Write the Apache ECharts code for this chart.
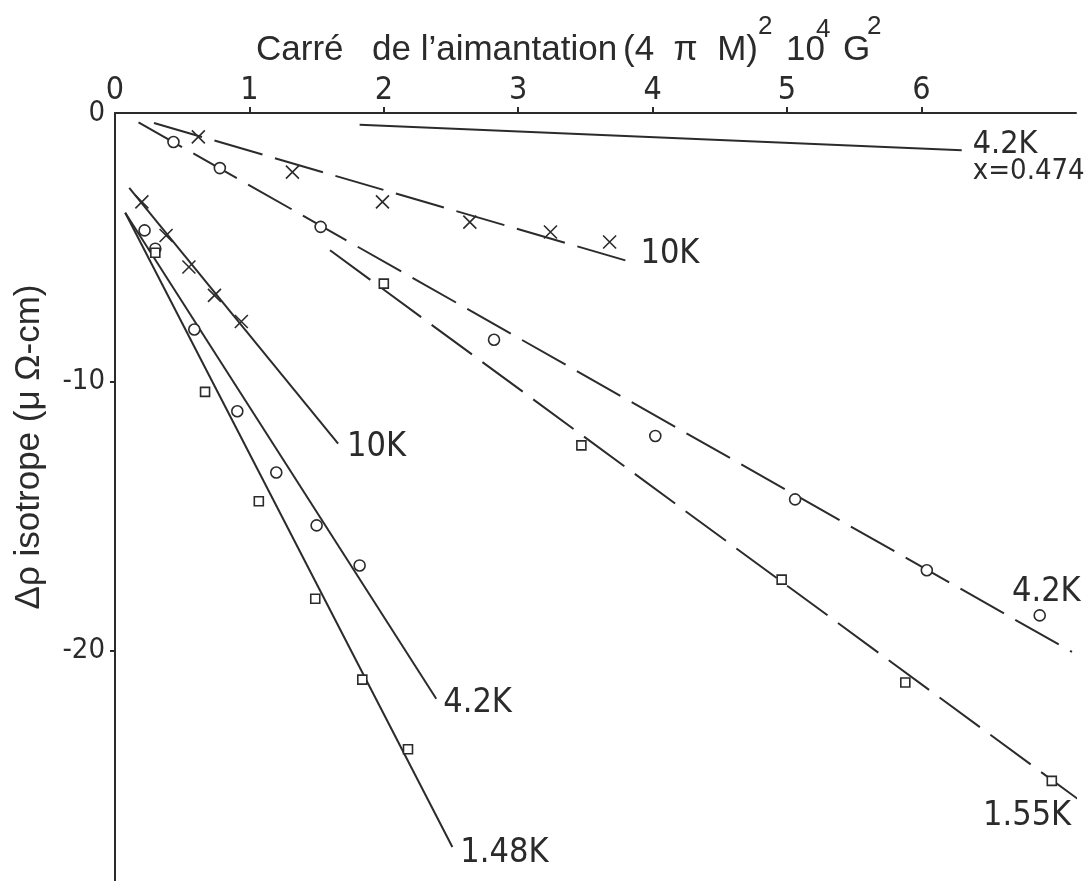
<!DOCTYPE html>
<html>
<head>
<meta charset="utf-8">
<script src="https://cdn.jsdelivr.net/npm/echarts@6/dist/echarts.min.js"></script>
<style>html,body{margin:0;padding:0;background:#fff}#c{width:1092px;height:881px}</style>
</head>
<body>
<div id="c"></div>
<script>
// ---- tick labels ----
const xTicks = [0, 1, 2, 3, 4, 5, 6];
const yTicks = [0, -10, -20];

// ---- 4.2K, x = 0.474 (solid line, no points) ----
const line42K_x0474 = [[1.82, -0.44], [6.30, -1.39]];

// ---- 10K (dashed, crosses) ----
const dash10K_x = [0.62, 1.32, 1.99, 2.64, 3.24, 3.68];
const dash10K_y = [-0.89, -2.20, -3.31, -4.06, -4.43, -4.80];
const dash10K_line = [[0.29, -0.37], [3.82, -5.52]];

// ---- 4.2K (dashed, circles) ----
const dash42K_x = [0.435, 0.78, 1.53, 2.82, 4.02, 5.06, 6.04, 6.88];
const dash42K_y = [-1.08, -2.05, -4.24, -8.44, -12.02, -14.38, -17.02, -18.70];
const dash42K_line = [[0.175, -0.35], [7.12, -20.06]];

// ---- 1.55K (dashed, squares) ----
const dash155K_x = [2.00, 3.47, 4.96, 5.88, 6.97];
const dash155K_y = [-6.35, -12.37, -17.37, -21.20, -24.86];
const dash155K_line = [[1.60, -5.11], [7.19, -25.63]];

// ---- 10K (solid, crosses) ----
const sol10K_x = [0.20, 0.38, 0.55, 0.74, 0.94];
const sol10K_y = [-3.31, -4.56, -5.73, -6.79, -7.76];
const sol10K_line = [[0.106, -2.79], [1.66, -12.31]];

// ---- 4.2K (solid, circles) ----
const sol42K_x = [0.22, 0.30, 0.59, 0.91, 1.20, 1.50, 1.82];
const sol42K_y = [-4.37, -5.05, -8.06, -11.10, -13.38, -15.35, -16.84];
const sol42K_line = [[0.076, -3.71], [2.39, -21.80]];

// ---- 1.48K (solid, squares) ----
const sol148K_x = [0.30, 0.67, 1.07, 1.49, 1.84, 2.18];
const sol148K_y = [-5.20, -10.38, -14.45, -18.08, -21.09, -23.68];
const sol148K_line = [[0.076, -3.71], [2.51, -27.32]];

const INK = '#2b2b2b';
const NUMFONT = "'Liberation Sans Narrow', 'DejaVu Sans Condensed', 'Liberation Sans', sans-serif";
const TXTFONT = "'Liberation Sans', Arial, sans-serif";

function lineSeries(pts, dashed, label, offset, extra) {
  return {
    type: 'line',
    data: pts,
    symbol: 'none',
    clip: false,
    silent: true,
    animation: false,
    z: 2,
    lineStyle: { color: INK, width: 2, type: dashed ? [50, 13] : 'solid' },
    endLabel: Object.assign({
      show: true,
      formatter: label,
      color: INK,
      fontFamily: NUMFONT,
      fontSize: 34,
      distance: 5,
      offset: offset
    }, extra || {})
  };
}

const CROSS = 'path://M0,0L10,10M10,0L0,10';
function markerSeries(xs, ys, sym) {
  const isCross = sym === 'cross';
  return {
    type: 'scatter',
    data: xs.map((x, i) => [x, ys[i]]),
    symbol: isCross ? CROSS : (sym === 'square' ? 'rect' : 'circle'),
    symbolSize: isCross ? 13 : (sym === 'square' ? 9 : 11),
    silent: true,
    animation: false,
    z: 5,
    itemStyle: {
      color: isCross ? 'none' : '#ffffff',
      borderColor: INK,
      borderWidth: 1.6,
      opacity: 1
    }
  };
}

const chart = echarts.init(document.getElementById('c'), null, { renderer: 'canvas' });

const option = {
  backgroundColor: '#ffffff',
  animation: false,
  grid: { left: 115, top: 113, width: 961, height: 806, containLabel: false, outerBoundsMode: 'none' },
  xAxis: {
    type: 'value',
    position: 'top',
    min: 0,
    max: 7.15,
    interval: 1,
    axisLine: { show: true, lineStyle: { color: INK, width: 2 } },
    axisTick: { show: true, length: 6, customValues: xTicks.slice(1), lineStyle: { color: INK, width: 2 } },
    axisLabel: {
      customValues: xTicks,
      color: INK, fontFamily: NUMFONT, fontSize: 32, margin: 6,
      formatter: v => (v > 6.5 ? '' : String(v))
    },
    splitLine: { show: false }
  },
  yAxis: {
    type: 'value',
    min: -30,
    max: 0,
    interval: 10,
    axisLine: { show: true, lineStyle: { color: INK, width: 2 } },
    axisTick: { show: true, length: 5, customValues: yTicks.slice(1), lineStyle: { color: INK, width: 2 } },
    axisLabel: {
      customValues: yTicks,
      color: INK, fontFamily: NUMFONT, fontSize: 29, margin: 10,
      formatter: v => String(v)
    },
    splitLine: { show: false }
  },
  graphic: [
    { type: 'text', x: 256, y: 50, style: { text: 'Carré', font: '35px ' + TXTFONT, fill: INK, verticalAlign: 'middle' } },
    { type: 'text', x: 372, y: 50, style: { text: 'de l\u2019aimantation', font: '35px ' + TXTFONT, fill: INK, verticalAlign: 'middle' } },
    { type: 'text', x: 623, y: 50, style: { text: '(4  \u03c0  M)', font: '35px ' + TXTFONT, fill: INK, verticalAlign: 'middle' } },
    { type: 'text', x: 758, y: 27, style: { text: '2', font: '26px ' + TXTFONT, fill: INK, verticalAlign: 'middle' } },
    { type: 'text', x: 786, y: 50, style: { text: '10', font: '35px ' + TXTFONT, fill: INK, verticalAlign: 'middle' } },
    { type: 'text', x: 816, y: 30, style: { text: '4', font: '26px ' + TXTFONT, fill: INK, verticalAlign: 'middle' } },
    { type: 'text', x: 843, y: 50, style: { text: 'G', font: '35px ' + TXTFONT, fill: INK, verticalAlign: 'middle' } },
    { type: 'text', x: 867, y: 27, style: { text: '2', font: '26px ' + TXTFONT, fill: INK, verticalAlign: 'middle' } },
    { type: 'text', x: 29, y: 447, rotation: Math.PI / 2,
      style: { text: '\u0394\u03c1 isotrope (\u03bc \u03a9-cm)', font: '35px ' + TXTFONT, fill: INK, align: 'center', verticalAlign: 'middle' } }
  ],
  series: [
    lineSeries(line42K_x0474, false, '{a|4.2K}\n{b|x=0.474}', [6, 8], {
      rich: {
        a: { fontSize: 32, lineHeight: 27, fontFamily: NUMFONT, color: INK },
        b: { fontSize: 29, lineHeight: 27, fontFamily: NUMFONT, color: INK }
      }
    }),
    lineSeries(dash10K_line, true, '10K', [7, -7]),
    lineSeries(dash42K_line, true, '4.2K', [-65, -60]),
    lineSeries(dash155K_line, true, '1.55K', [-99, 18]),
    lineSeries(sol10K_line, false, '10K', [4, 3]),
    lineSeries(sol42K_line, false, '4.2K', [2, 4]),
    lineSeries(sol148K_line, false, '1.48K', [3, 6]),
    markerSeries(dash10K_x, dash10K_y, 'cross'),
    markerSeries(dash42K_x, dash42K_y, 'circle'),
    markerSeries(dash155K_x, dash155K_y, 'square'),
    markerSeries(sol10K_x, sol10K_y, 'cross'),
    markerSeries(sol42K_x, sol42K_y, 'circle'),
    markerSeries(sol148K_x, sol148K_y, 'square')
  ]
};
chart.setOption(option);
</script>
</body>
</html>
